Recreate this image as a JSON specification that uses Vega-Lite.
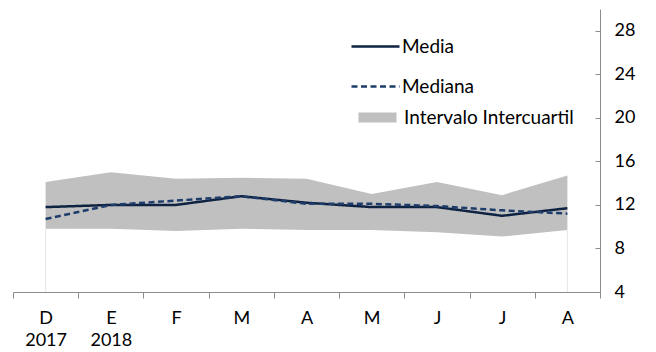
{
  "$schema": "https://vega.github.io/schema/vega-lite/v6.json",
  "width": 587,
  "height": 283,
  "autosize": "none",
  "padding": {"left": 13, "top": 9, "right": 56, "bottom": 60},
  "background": "white",
  "config": {
    "view": {"stroke": null},
    "font": "Lato",
    "axis": {"labelFont": "Lato", "labelColor": "#000000", "domainColor": "#8c8c8c", "tickColor": "#8c8c8c", "grid": false},
    "legend": {"labelFont": "Lato", "labelColor": "#000000", "labelLimit": 400}
  },
  "data": {
    "values": [
      {"mes": "2017-12", "Media": 11.8, "Mediana": 10.7, "q1": 9.8, "q3": 14.1},
      {"mes": "2018-01", "Media": 12.0, "Mediana": 12.0, "q1": 9.8, "q3": 15.0},
      {"mes": "2018-02", "Media": 12.0, "Mediana": 12.4, "q1": 9.6, "q3": 14.4},
      {"mes": "2018-03", "Media": 12.8, "Mediana": 12.8, "q1": 9.8, "q3": 14.5},
      {"mes": "2018-04", "Media": 12.2, "Mediana": 12.1, "q1": 9.7, "q3": 14.4},
      {"mes": "2018-05", "Media": 11.8, "Mediana": 12.1, "q1": 9.7, "q3": 13.0},
      {"mes": "2018-06", "Media": 11.8, "Mediana": 11.9, "q1": 9.5, "q3": 14.1},
      {"mes": "2018-07", "Media": 11.0, "Mediana": 11.5, "q1": 9.1, "q3": 12.9},
      {"mes": "2018-08", "Media": 11.7, "Mediana": 11.2, "q1": 9.7, "q3": 14.7}
    ]
  },
  "encoding": {
    "x": {
      "field": "mes",
      "type": "ordinal",
      "sort": null,
      "title": null,
      "bandPosition": 0.5,
      "scale": {"type": "band", "paddingInner": 0, "paddingOuter": 0},
      "axis": {
        "orient": "bottom",
        "tickBand": "extent",
        "labelAngle": 0,
        "tickSize": 6,
        "labelPadding": 11,
        "labelFontSize": 18,
        "labelLineHeight": 22,
        "labelExpr": "{'2017-12': ['D', '2017'], '2018-01': ['E', '2018'], '2018-02': 'F', '2018-03': 'M', '2018-04': 'A', '2018-05': 'M', '2018-06': 'J', '2018-07': 'J', '2018-08': 'A'}[datum.value]"
      }
    }
  },
  "layer": [
    {
      "mark": {"type": "area", "opacity": 1},
      "encoding": {
        "y": {
          "field": "q1",
          "type": "quantitative",
          "title": null,
          "scale": {"domain": [4, 30], "nice": false, "zero": false},
          "axis": {"orient": "right", "values": [4, 8, 12, 16, 20, 24, 28], "tickSize": -5, "labelPadding": 19, "labelFontSize": 18}
        },
        "y2": {"field": "q3"},
        "fill": {
          "datum": "Intervalo Intercuartil",
          "type": "nominal",
          "scale": {"range": ["#c0c0c0"]},
          "legend": {
            "orient": "none",
            "legendX": 355,
            "legendY": 99,
            "title": null,
            "padding": 0,
            "symbolType": "M-3.8,-1H3.8V1H-3.8Z",
            "symbolSize": 100,
            "symbolStrokeWidth": 0,
            "labelOffset": 17,
            "labelFontSize": 19
          }
        }
      }
    },
    {
      "transform": [{"filter": {"field": "mes", "oneOf": ["2017-12", "2018-08"]}}],
      "mark": {"type": "rule", "color": "#e6e6e6", "strokeWidth": 1},
      "encoding": {
        "y": {
          "field": "q1",
          "type": "quantitative",
          "title": null,
          "scale": {"domain": [4, 30], "nice": false, "zero": false},
          "axis": {"orient": "right", "values": [4, 8, 12, 16, 20, 24, 28], "tickSize": -5, "labelPadding": 19, "labelFontSize": 18}
        },
        "y2": {"datum": 4}
      }
    },
    {
      "transform": [{"fold": ["Media", "Mediana"], "as": ["serie", "valor"]}],
      "mark": {"type": "line", "strokeWidth": 2.5},
      "encoding": {
        "y": {
          "field": "valor",
          "type": "quantitative",
          "title": null,
          "scale": {"domain": [4, 30], "nice": false, "zero": false},
          "axis": {"orient": "right", "values": [4, 8, 12, 16, 20, 24, 28], "tickSize": -5, "labelPadding": 19, "labelFontSize": 18}
        },
        "stroke": {
          "field": "serie",
          "type": "nominal",
          "scale": {"domain": ["Media", "Mediana"], "range": ["#0e2341", "#1f3d6b"]},
          "legend": {
            "orient": "none",
            "legendX": 369,
            "legendY": 28,
            "title": null,
            "padding": 0,
            "symbolType": "M-5,0H1",
            "symbolSize": 256,
            "symbolStrokeWidth": 2.5,
            "labelOffset": 1,
            "labelFontSize": 19,
            "rowPadding": 20
          }
        },
        "strokeDash": {
          "field": "serie",
          "type": "nominal",
          "scale": {"domain": ["Media", "Mediana"], "range": [[1, 0], [6, 3.5]]},
          "legend": {
            "orient": "none",
            "legendX": 369,
            "legendY": 28,
            "title": null,
            "padding": 0,
            "symbolType": "M-5,0H1",
            "symbolSize": 256,
            "symbolStrokeWidth": 2.5,
            "labelOffset": 1,
            "labelFontSize": 19,
            "rowPadding": 20
          }
        }
      }
    }
  ]
}
